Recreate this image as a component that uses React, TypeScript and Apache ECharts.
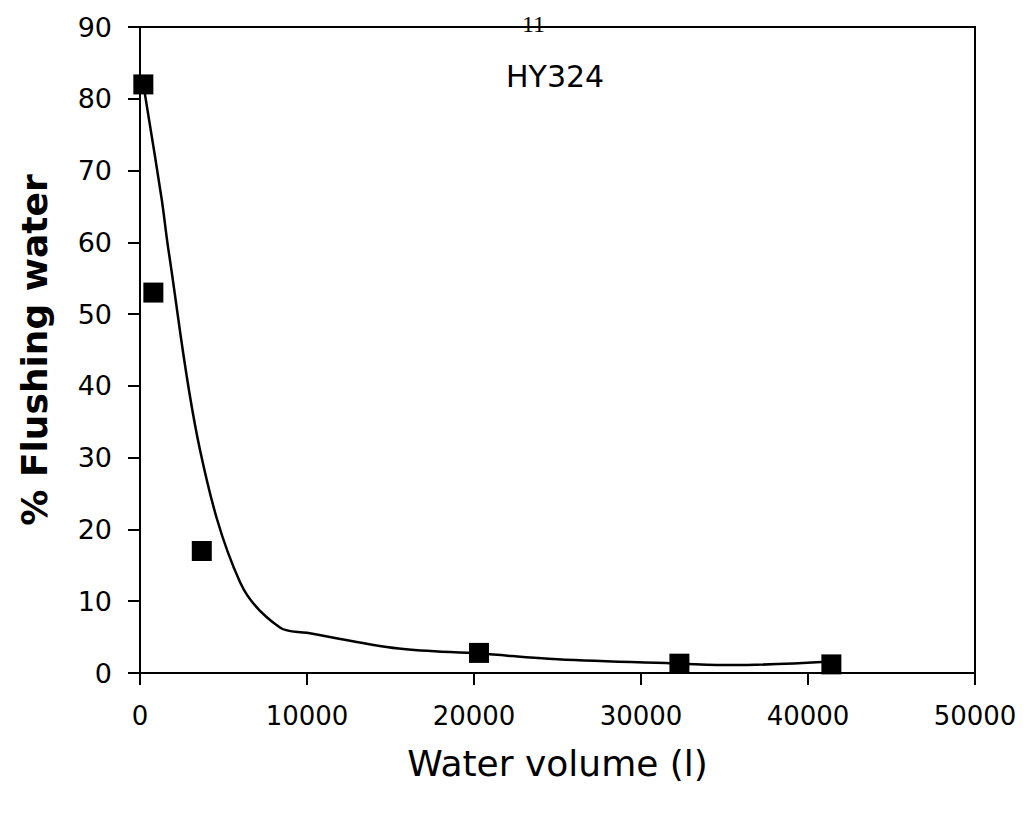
import React, { useEffect, useRef } from "react";
import * as echarts from "echarts";

const xTicks = [0, 10000, 20000, 30000, 40000, 50000];
const yTicks = [0, 10, 20, 30, 40, 50, 60, 70, 80, 90];

const measuredX = [200, 800, 3700, 20300, 32300, 41400];
const measuredY = [82, 53, 17, 2.8, 1.3, 1.2];

const curveX = [200, 1300, 1700, 3600, 6000, 8400, 10000, 15500, 20400, 25000, 32400, 35500, 41400];
const curveY = [82, 66, 59, 31, 12.6, 6.3, 5.6, 3.4, 2.7, 1.9, 1.3, 1.1, 1.6];

const panelLabel = "11";
const seriesLabel = "HY324";

export default function App() {
  const ref = useRef<HTMLDivElement>(null);
  useEffect(() => {
    const chart = echarts.init(ref.current!, null, { renderer: "svg" });
    const font = "'DejaVu Sans', 'Liberation Sans', sans-serif";
    chart.setOption({
      animation: false,
      backgroundColor: "#fff",
      grid: {
        left: 140,
        top: 27,
        right: 56,
        bottom: 141,
        show: true,
        borderColor: "#000",
        borderWidth: 2,
      },
      xAxis: {
        type: "value",
        min: xTicks[0],
        max: xTicks[xTicks.length - 1],
        interval: 10000,
        name: "Water volume (l)",
        nameLocation: "middle",
        nameGap: 72,
        nameTextStyle: { fontFamily: font, fontSize: 36, color: "#000" },
        axisLine: { show: true, onZero: false, lineStyle: { color: "#000", width: 2 } },
        axisTick: { show: true, length: 12, lineStyle: { color: "#000", width: 2 } },
        axisLabel: { margin: 30, fontFamily: font, fontSize: 26, color: "#000", formatter: (v: number) => String(v) },
        splitLine: { show: false },
      },
      yAxis: {
        type: "value",
        min: yTicks[0],
        max: yTicks[yTicks.length - 1],
        interval: 10,
        name: "% Flushing water",
        nameLocation: "middle",
        nameGap: 88,
        nameTextStyle: { fontFamily: font, fontSize: 36, fontWeight: "bold", color: "#000" },
        axisLine: { show: true, lineStyle: { color: "#000", width: 2 } },
        axisTick: { show: true, length: 12, lineStyle: { color: "#000", width: 2 } },
        axisLabel: { margin: 28, fontFamily: font, fontSize: 27, color: "#000", formatter: (v: number) => String(v) },
        splitLine: { show: false },
      },
      graphic: [
        {
          type: "text",
          left: 522,
          top: 12,
          style: { text: panelLabel, fontFamily: "'Liberation Serif', serif", fontSize: 24, fill: "#000" },
        },
        {
          type: "text",
          left: 506,
          top: 61,
          style: { text: seriesLabel, fontFamily: font, fontSize: 30, fill: "#000" },
        },
      ],
      series: [
        {
          type: "line",
          data: curveX.map((x, i) => [x, curveY[i]]),
          smooth: 0.35,
          showSymbol: false,
          lineStyle: { color: "#000", width: 2.5 },
          z: 2,
        },
        {
          type: "scatter",
          data: measuredX.map((x, i) => [x, measuredY[i]]),
          symbol: "rect",
          symbolSize: 20,
          itemStyle: { color: "#000", opacity: 1 },
          z: 3,
        },
      ],
    });
    return () => chart.dispose();
  }, []);
  return <div ref={ref} style={{ width: 1031, height: 814, position: "absolute", left: 0, top: 0 }} />;
}
